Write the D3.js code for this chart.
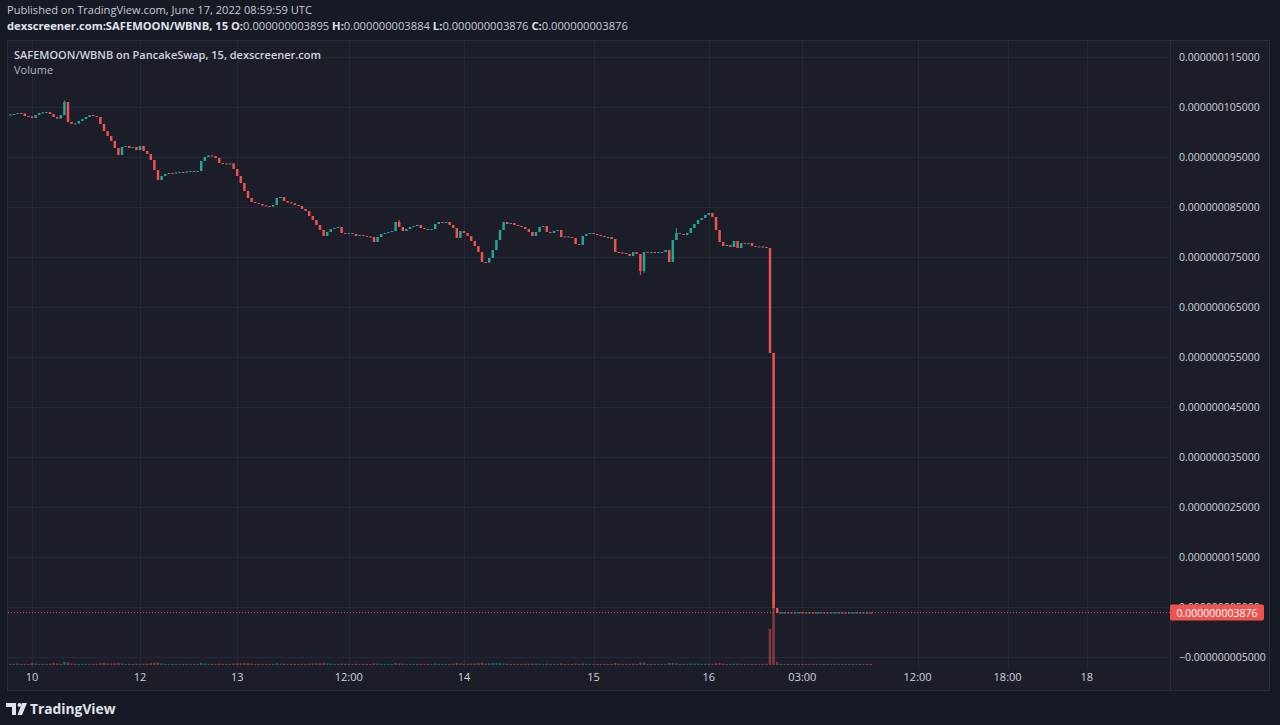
<!DOCTYPE html>
<html>
<head>
<meta charset="utf-8">
<script src="https://cdn.jsdelivr.net/npm/d3@7"></script>
<style>
html, body { margin: 0; background: #161a24; }
svg { display: block; font-family: "Open Sans", "Noto Sans", sans-serif; }
</style>
</head>
<body>
<svg width="1280" height="725"></svg>
<script>
// prices are in units of 1e-9 WBNB
var firstOpen = 103.4;
// closes of the 15m bars, the open of a bar is the close of the bar before
var closes = [
  103.5,103.6,103.8,103.7,103.2,103.1,102.8,103.4,103.8,103.9,104.0,103.6,103.0,102.7,103.4,106.0,102.0,101.6,101.7,102.2,
  102.6,103.0,103.4,103.2,103.0,101.6,100.2,99.2,98.2,96.8,95.4,97.0,97.2,96.8,97.0,96.4,97.2,96.2,95.6,94.4,
  92.4,90.4,91.2,91.6,91.8,91.7,91.9,92.0,91.9,92.1,92.2,92.0,92.2,94.2,95.0,95.3,95.2,94.8,93.8,93.7,
  93.6,93.7,92.6,91.2,89.8,88.2,86.8,86.0,85.8,85.6,85.3,85.2,85.1,85.4,86.8,87.0,86.2,85.9,85.7,85.4,
  85.2,84.6,84.2,83.2,82.4,81.4,80.4,79.2,80.0,80.6,80.8,81.0,79.8,79.6,79.8,79.6,79.2,79.4,79.2,79.1,
  79.0,78.0,79.0,79.6,79.8,80.0,80.2,82.0,81.0,80.2,80.6,81.0,81.2,81.4,80.8,80.6,80.5,80.6,81.6,82.0,
  81.9,82.0,81.4,80.8,78.8,80.2,79.8,79.2,78.2,77.2,76.0,74.0,73.9,74.8,76.4,78.4,80.4,82.0,81.6,81.8,
  81.4,81.2,81.0,80.6,80.0,79.2,80.0,81.0,81.2,80.0,79.8,80.2,80.4,79.0,79.1,79.0,78.8,77.6,77.4,79.2,
  79.6,79.8,79.6,79.4,79.2,79.0,79.0,78.6,76.0,75.9,75.8,75.6,75.2,76.0,75.6,72.2,76.0,75.9,76.0,75.9,
  76.0,76.0,76.4,74.0,78.4,79.8,79.6,79.4,79.8,80.8,81.6,82.4,82.8,83.4,83.8,83.0,80.4,78.0,77.2,77.4,
  77.0,78.2,76.8,77.8,77.6,77.8,77.2,77.1,77.1,77.0,76.8,55.8,4.8,3.8,3.9,3.91,3.9,3.89,3.9,3.92,
  3.91,3.9,3.9,3.88,3.9,3.91,3.9,3.89,3.9,3.9,3.91,3.9,3.89,3.9,3.9,3.91,3.9,3.9,3.895,3.876
];
var volumes = [
  1.2,1,1.5,1,1.3,1,2,1.5,1,1.2,1,1.4,1.8,1.6,1.2,3,2.5,1.5,1.2,1,
  1,1.2,1,1.1,1.3,1.8,2,1.6,1.5,1.8,2.2,1.5,1,1.2,1,1.3,1.1,1.2,1.4,1.9,
  2.2,2.5,1.6,1.2,1,1,1.1,1,1,1.2,1,1,1,2,1.5,1.2,1,1.1,1.4,1.2,
  1,1.1,1.5,1.7,1.8,2,1.9,1.5,1.2,1,1.1,1,1,1.2,1.8,1.3,1.2,1,1,1.1,
  1,1.3,1.2,1.5,1.6,1.7,1.8,2,1.6,1.3,1,1.1,1.4,1.2,1,1,1.2,1,1.1,1,
  1,1.6,1.4,1.2,1,1,1,1.9,1.6,1.4,1.1,1,1,1,1.2,1.1,1,1,1.5,1.2,
  1,1,1.2,1.3,2,1.6,1.2,1.3,1.5,1.6,1.8,2.4,1.5,1.7,2,2.1,1.9,1.6,1.2,1,
  1,1.1,1,1.2,1.3,1.5,1.4,1.3,1,1.4,1.1,1,1,1.6,1,1,1.1,1.5,1.2,1.5,
  1.1,1,1,1,1,1,1,1.2,2,1.3,1.1,1,1.2,1.4,1.1,2.6,2.4,1.2,1,1,
  1,1,1.2,1.9,2.2,1.8,1.2,1,1.1,1.5,1.4,1.4,1.2,1.3,1.3,1.2,1.9,2.1,1.4,1,
  1.1,1.3,1.4,1.3,1,1,1.1,1,1,1,1.2,36,72,3,1.2,1,1,1.1,1,1,
  1,1,1,1.1,1,1,1,1,1,1,1.1,1,1,1,1,1,1,1,1,1
];
var wickBars = [15, 108, 175, 176, 185];
var wickHighs = [106.3, 82.4, null, null, 80.8];
var wickLows = [null, null, 71.4, 71.8, null];

var priceTicks = [115, 105, 95, 85, 75, 65, 55, 45, 35, 25, 15, 5, -5];
var timeLabels = ["10", "12", "13", "12:00", "14", "15", "16", "03:00", "12:00", "18:00", "18"];
var timeBars = [6, 36, 63, 94, 126, 162, 194, 220, 252, 277, 299];
var lastPrice = 3.876;
var ohlcNames = ["O:", "H:", "L:", "C:"];
var ohlcValues = ["0.000000003895", "0.000000003884", "0.000000003876", "0.000000003876"];

var UP = "#26a69a", DOWN = "#ef5350", TEXT = "#d1d4dc", GRID = "#252935";

var svg = d3.select("svg");

var x = d3.scaleLinear().domain([0, 322]).range([10.4, 1169.6]);
var y = d3.scaleLinear().domain([-5, 115]).range([657, 57]);
var yVol = d3.scaleLinear().domain([0, 100]).range([665, 565]);
var fmt = d3.format(".12f");

// build candles
var bars = closes.map(function(c, i) {
  var o = i === 0 ? firstOpen : closes[i - 1];
  var k = wickBars.indexOf(i);
  var h = Math.max(o, c), l = Math.min(o, c);
  if (k >= 0) {
    if (wickHighs[k] != null) h = wickHighs[k];
    if (wickLows[k] != null) l = wickLows[k];
  }
  return { i: i, o: o, c: c, h: h, l: l, v: volumes[i] };
});

// header
var head = svg.append("g");
head.append("text").attr("x", 7).attr("y", 14)
  .attr("font-size", 11.1).attr("fill", "#c8cbd3")
  .text("Published on TradingView.com, June 17, 2022 08:59:59 UTC");
var l2 = head.append("text").attr("x", 7).attr("y", 30)
  .attr("font-size", 11.2).attr("fill", "#e0e3eb");
l2.append("tspan").attr("font-weight", 700).text("dexscreener.com:SAFEMOON/WBNB, 15 ");
ohlcNames.forEach(function(n, k) {
  l2.append("tspan").attr("font-weight", 700).text(" " + n);
  l2.append("tspan").attr("fill", "#c8cbd3").text(ohlcValues[k]);
});

// pane
svg.append("rect").attr("x", 7.5).attr("y", 40.5).attr("width", 1262).attr("height", 650)
  .attr("fill", "#1b1e29").attr("stroke", "#2a2e39");

// grid
svg.append("g").selectAll("line").data(priceTicks).enter().append("line")
  .attr("x1", 8).attr("x2", 1170)
  .attr("y1", function(d) { return Math.round(y(d)) + 0.5; })
  .attr("y2", function(d) { return Math.round(y(d)) + 0.5; })
  .attr("stroke", GRID);
svg.append("g").selectAll("line").data(timeBars).enter().append("line")
  .attr("y1", 41).attr("y2", 668)
  .attr("x1", function(d) { return Math.round(x(d)) + 0.5; })
  .attr("x2", function(d) { return Math.round(x(d)) + 0.5; })
  .attr("stroke", GRID);

// price axis separator
svg.append("line").attr("x1", 1170.5).attr("x2", 1170.5).attr("y1", 41).attr("y2", 690)
  .attr("stroke", "#2a2e39");

// legend in pane
svg.append("text").attr("x", 14).attr("y", 59).attr("font-size", 11)
  .attr("font-weight", 600).attr("fill", TEXT)
  .text("SAFEMOON/WBNB on PancakeSwap, 15, dexscreener.com");
svg.append("text").attr("x", 14).attr("y", 74).attr("font-size", 11)
  .attr("fill", "#b2b5be").text("Volume");

var bw = Math.max(1, (x(1) - x(0)) * 0.68);

// volume
svg.append("g").selectAll("rect").data(bars).enter().append("rect")
  .attr("x", function(d) { return x(d.i) - bw / 2; })
  .attr("width", bw)
  .attr("y", function(d) { return yVol(d.v); })
  .attr("height", function(d) { return yVol(0) - yVol(d.v); })
  .attr("fill", function(d) { return d.c >= d.o ? UP : DOWN; })
  .attr("opacity", 0.5);

// last price line
svg.append("line").attr("x1", 8).attr("x2", 1170)
  .attr("y1", y(lastPrice)).attr("y2", y(lastPrice))
  .attr("stroke", DOWN).attr("stroke-dasharray", "1,2").attr("opacity", 0.9);

// candles
var cg = svg.append("g").selectAll("g").data(bars).enter().append("g");
cg.append("line")
  .attr("x1", function(d) { return x(d.i); })
  .attr("x2", function(d) { return x(d.i); })
  .attr("y1", function(d) { return y(d.h); })
  .attr("y2", function(d) { return y(d.l); })
  .attr("stroke", function(d) { return d.c >= d.o ? UP : DOWN; });
cg.append("rect")
  .attr("x", function(d) { return x(d.i) - bw / 2; })
  .attr("width", bw)
  .attr("y", function(d) { return y(Math.max(d.o, d.c)); })
  .attr("height", function(d) { return Math.max(1, Math.abs(y(d.o) - y(d.c))); })
  .attr("fill", function(d) { return d.c >= d.o ? UP : DOWN; });

// price axis labels
svg.append("g").selectAll("text").data(priceTicks).enter().append("text")
  .attr("x", 1179).attr("y", function(d) { return y(d) + 4; })
  .attr("font-size", 10.5).attr("fill", TEXT)
  .text(function(d) { return fmt(d * 1e-9); });

// last price label
svg.append("rect").attr("x", 1170).attr("y", y(lastPrice) - 8).attr("width", 94).attr("height", 16)
  .attr("rx", 2).attr("fill", DOWN);
svg.append("text").attr("x", 1217).attr("y", y(lastPrice) + 4)
  .attr("text-anchor", "middle").attr("font-size", 10.5).attr("fill", "#ffffff")
  .text(fmt(lastPrice * 1e-9));

// time axis labels
svg.append("g").selectAll("text").data(timeBars).enter().append("text")
  .attr("x", function(d) { return x(d); }).attr("y", 681)
  .attr("text-anchor", "middle").attr("font-size", 11).attr("fill", TEXT)
  .text(function(d, k) { return timeLabels[k]; });

// TradingView mark
var logo = svg.append("g").attr("fill", "#e0e3eb");
logo.append("path").attr("d", "M6,703 H16 V715 H12 V707 H6 Z");
logo.append("circle").attr("cx", 19.5).attr("cy", 705).attr("r", 2);
logo.append("path").attr("d", "M22,703 H27 L22,715 H17.5 Z");
logo.append("text").attr("x", 30).attr("y", 714).attr("font-size", 13.8)
  .attr("font-weight", 700).text("TradingView");
</script>
</body>
</html>
